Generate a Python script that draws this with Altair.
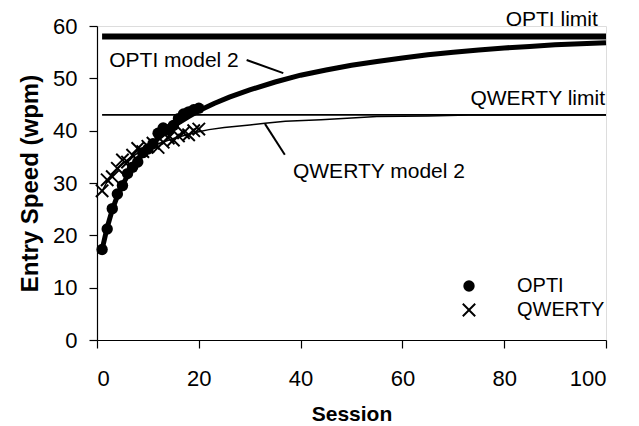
import altair as alt
import pandas as pd

# ---------------- data ----------------
sessions = list(range(1, 21))
opti_pts = [17.3, 21.2, 25.1, 27.9, 29.5, 31.8, 33.0, 34.0, 35.8, 36.5,
            37.5, 39.5, 40.5, 40.2, 41.0, 42.3, 43.2, 43.6, 44.0, 44.3]
qwerty_pts = [28.5, 30.6, 31.2, 32.8, 34.4, 34.0, 35.3, 36.6, 36.0, 37.0,
              37.6, 36.8, 37.8, 38.6, 38.2, 39.0, 39.6, 39.2, 40.0, 40.3]

opti_model_x = [1, 2, 3, 4, 5, 6, 7, 8, 9, 10, 12, 14, 16, 18, 20, 23, 26, 30,
                35, 40, 45, 50, 55, 60, 65, 70, 75, 80, 85, 90, 95, 100]
opti_model_y = [17.3, 21.5, 24.9, 27.5, 29.6, 31.4, 32.9, 34.3, 35.5, 36.6, 38.5,
                40.1, 41.5, 42.7, 43.8, 45.2, 46.4, 47.8, 49.3, 50.6, 51.6, 52.5,
                53.2, 53.9, 54.5, 55.0, 55.4, 55.8, 56.1, 56.4, 56.6, 56.8]

qwerty_model_x = [1, 2, 3, 4, 5, 6, 8, 10, 12, 15, 18, 20, 22, 25, 30, 33, 37,
                  44, 50, 55, 65, 73, 100]
qwerty_model_y = [28.4, 30.3, 31.6, 32.7, 33.6, 34.4, 35.7, 36.7, 37.5, 38.5, 39.3,
                  39.8, 40.2, 40.6, 41.1, 41.4, 41.8, 42.1, 42.4, 42.7, 42.8, 43.0, 43.0]

limit_names = ["OPTI limit", "QWERTY limit"]
limit_values = [58, 43]
limit_from = [1, 1]
limit_to = [100, 100]

# annotation texts (anchor in data units)
left_labels = ["OPTI model 2", "QWERTY model 2"]
left_label_x = [2.4, 38.5]
left_label_y = [53.3, 32.1]
right_labels = ["OPTI limit", "QWERTY  limit"]
right_label_x = [98.4, 99.8]
right_label_y = [61.2, 46.0]

# leader lines
leader_x1 = [29.4, 33.0]
leader_y1 = [53.5, 41.3]
leader_x2 = [36.6, 36.9]
leader_y2 = [51.0, 35.4]

x_ticks = [0, 20, 40, 60, 80, 100]
y_ticks = [0, 10, 20, 30, 40, 50, 60]

FONT = "Liberation Sans"
X_SHAPE = ("M-1,-0.8L-0.8,-1L0,-0.2L0.8,-1L1,-0.8L0.2,0L1,0.8L0.8,1L0,0.2"
           "L-0.8,1L-1,0.8L-0.2,0Z")

# ---------------- tables ----------------
pts = pd.DataFrame({
    "session": sessions * 2,
    "wpm": opti_pts + qwerty_pts,
    "series": ["OPTI"] * len(sessions) + ["QWERTY"] * len(sessions),
})
opti_model = pd.DataFrame({"session": opti_model_x, "wpm": opti_model_y})
qwerty_model = pd.DataFrame({"session": qwerty_model_x, "wpm": qwerty_model_y})
limits = pd.DataFrame({"name": limit_names, "wpm": limit_values,
                       "x1": limit_from, "x2": limit_to})
left_df = pd.DataFrame({"t": left_labels, "session": left_label_x, "wpm": left_label_y})
right_df = pd.DataFrame({"t": right_labels, "session": right_label_x, "wpm": right_label_y})
leaders = pd.DataFrame({"x1": leader_x1, "y1": leader_y1, "x2": leader_x2, "y2": leader_y2})

xs = alt.Scale(domain=[0, 100], nice=False, zero=False)
ys = alt.Scale(domain=[0, 60], nice=False, zero=False)

xaxis = alt.Axis(values=x_ticks, title="Session", grid=False, tickSize=8,
                 labelPadding=20, titlePadding=14, domainColor="black",
                 tickColor="black", labelFontSize=22, titleFontSize=21,
                 labelColor="black", titleColor="black", labelFont=FONT,
                 titleFont=FONT, titleFontWeight="bold", domainWidth=1.2,
                 tickWidth=1.2)
yaxis = alt.Axis(values=y_ticks, title="Entry Speed (wpm)", grid=False, tickSize=8,
                 labelPadding=12, titlePadding=10, domainColor="black",
                 tickColor="black", labelFontSize=22, titleFontSize=24,
                 labelColor="black", titleColor="black", labelFont=FONT,
                 titleFont=FONT, titleFontWeight="bold", domainWidth=1.2,
                 tickWidth=1.2)


def X(field):
    return alt.X(field, type="quantitative", scale=xs, axis=xaxis)


def Y(field):
    return alt.Y(field, type="quantitative", scale=ys, axis=yaxis)


limit_layer = alt.Chart(limits).mark_rule(color="black").encode(
    x=X("x1"), x2="x2", y=Y("wpm"),
    strokeWidth=alt.StrokeWidth("name:N", scale=alt.Scale(domain=limit_names, range=[6, 1.8]), legend=None),
)

opti_line = alt.Chart(opti_model).mark_line(color="black", strokeWidth=5).encode(
    x=X("session"), y=Y("wpm"))
qwerty_line = alt.Chart(qwerty_model).mark_line(color="black", strokeWidth=1.5).encode(
    x=X("session"), y=Y("wpm"))

legend_spec = alt.Legend(title=None, orient="none", legendX=362, legendY=250,
                         labelFontSize=20, labelFont=FONT, labelColor="black",
                         labelOffset=38, rowPadding=4, symbolFillColor="black",
                         symbolStrokeWidth=0, symbolOpacity=1, padding=0)

points = alt.Chart(pts).mark_point(filled=True, color="black", opacity=1).encode(
    x=X("session"), y=Y("wpm"),
    shape=alt.Shape("series:N", scale=alt.Scale(
        domain=["OPTI", "QWERTY"], range=["circle", X_SHAPE]),
        legend=legend_spec),
    size=alt.Size("series:N", scale=alt.Scale(domain=["OPTI", "QWERTY"], range=[130, 190]),
                  legend=legend_spec),
)

leader_layer = alt.Chart(leaders).mark_rule(color="black", strokeWidth=2).encode(
    x=X("x1"), y=Y("y1"), x2="x2", y2="y2")

left_text = alt.Chart(left_df).mark_text(align="left", baseline="middle", fontSize=21,
                                         font=FONT, color="black").encode(
    x=X("session"), y=Y("wpm"), text="t")
right_text = alt.Chart(right_df).mark_text(align="right", baseline="middle", fontSize=21,
                                           font=FONT, color="black").encode(
    x=X("session"), y=Y("wpm"), text="t")

chart = alt.layer(limit_layer, qwerty_line, opti_line, points, leader_layer,
                  left_text, right_text).properties(
    width=509, height=314,
    autosize=alt.AutoSizeParams(type="none"),
    padding={"left": 97, "top": 26, "right": 33, "bottom": 86},
    background="white",
).configure_view(stroke=None).configure(font=FONT)

chart.save("out.html", embed_options={"renderer": "svg", "actions": False})
